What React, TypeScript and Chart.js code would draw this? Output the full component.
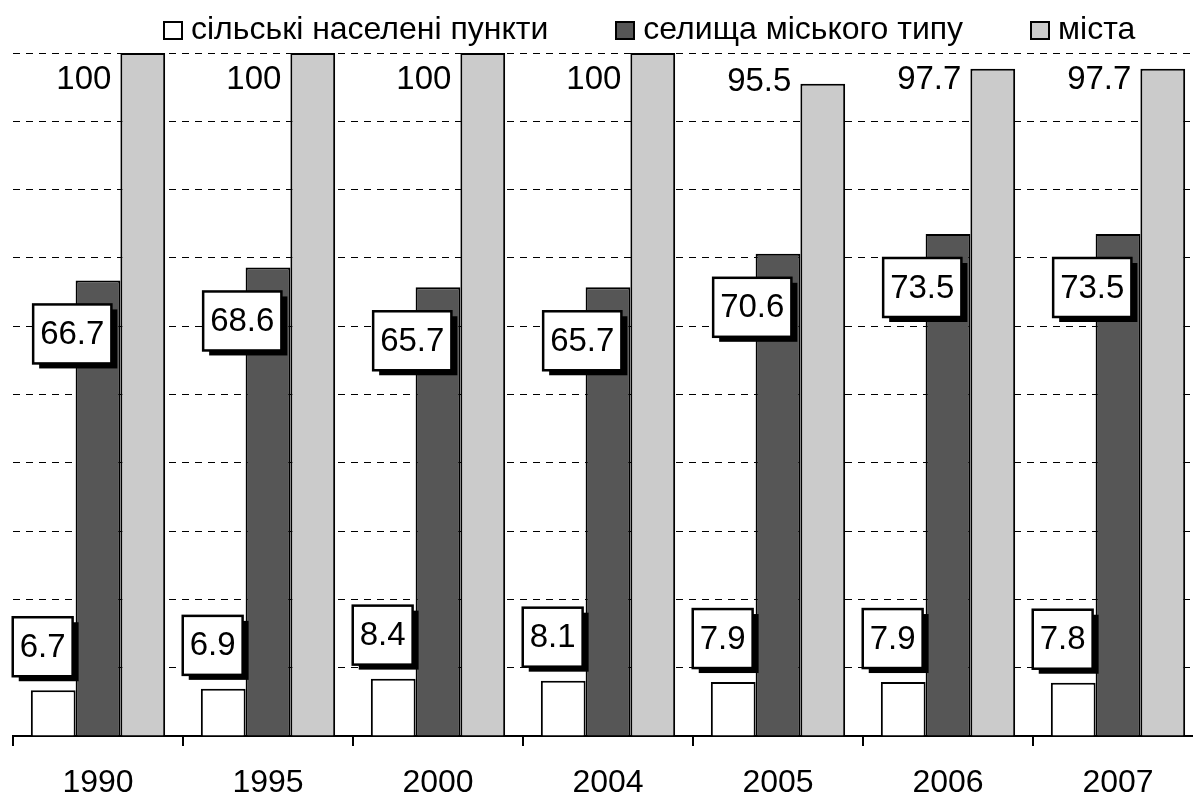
import React, { useEffect, useRef } from 'react';
import { Chart, registerables } from 'chart.js';

Chart.register(...registerables);

const years = ['1990', '1995', '2000', '2004', '2005', '2006', '2007'];
const seriesNames = ['сільські населені пункти', 'селища міського типу', 'міста'];
const ruralValues = [6.7, 6.9, 8.4, 8.1, 7.9, 7.9, 7.8];
const townValues = [66.7, 68.6, 65.7, 65.7, 70.6, 73.5, 73.5];
const cityValues = [100, 100, 100, 100, 95.5, 97.7, 97.7];
const seriesColors = ['#ffffff', '#565656', '#cbcbcb'];

const FONT = '"Liberation Sans", Arial, sans-serif';

const labelPlugin = {
  id: 'valueLabels',
  afterDatasetsDraw(chart: any) {
    const ctx = chart.ctx as CanvasRenderingContext2D;
    const top = chart.chartArea.top;
    ctx.save();
    ctx.font = `33px ${FONT}`;
    ctx.textBaseline = 'middle';
    chart.data.datasets.forEach((ds: any, di: number) => {
      const meta = chart.getDatasetMeta(di);
      meta.data.forEach((bar: any, i: number) => {
        const { x, y, width } = bar.getProps(['x', 'y', 'width'], true);
        const text = String(ds.data[i]);
        const left = x - width / 2;
        const right = x + width / 2;
        if (di === 2) {
          ctx.fillStyle = '#000';
          ctx.textAlign = 'right';
          ctx.fillText(text, left - 9, Math.max(y - 2, top + 27));
          return;
        }
        const tw = ctx.measureText(text).width;
        const bw = tw + 14;
        const bh = 59;
        let bx: number;
        let by: number;
        if (di === 0) {
          bx = right - 3 - bw;
          by = y - 14 - bh;
        } else {
          bx = right - 9 - bw;
          by = y + 24;
        }
        ctx.fillStyle = '#000';
        ctx.fillRect(bx + 6, by + 5, bw, bh);
        ctx.fillStyle = '#fff';
        ctx.fillRect(bx, by, bw, bh);
        ctx.lineWidth = 2.5;
        ctx.strokeStyle = '#000';
        ctx.strokeRect(bx, by, bw, bh);
        ctx.fillStyle = '#000';
        ctx.textAlign = 'center';
        ctx.fillText(text, bx + bw / 2, by + bh / 2 + 1);
      });
    });
    ctx.restore();
  },
};

export default function App() {
  const canvasRef = useRef<HTMLCanvasElement | null>(null);

  useEffect(() => {
    document.body.style.margin = '0';
    document.body.style.background = '#fff';
    const canvas = canvasRef.current;
    if (!canvas) return;
    const valueSets = [ruralValues, townValues, cityValues];
    const chart = new Chart(canvas, {
      type: 'bar',
      data: {
        labels: years,
        datasets: valueSets.map((vals, i) => ({
          label: seriesNames[i],
          data: vals,
          backgroundColor: seriesColors[i],
          borderColor: '#000',
          borderWidth: 2,
          categoryPercentage: 0.79,
          barPercentage: 1,
        })),
      },
      options: {
        responsive: false,
        maintainAspectRatio: false,
        animation: false,
        devicePixelRatio: 1,
        layout: { padding: { top: 53, left: 0, right: 0, bottom: 0 } },
        plugins: {
          legend: { display: false },
          tooltip: { enabled: false },
        },
        scales: {
          x: {
            grid: {
              offset: true,
              drawOnChartArea: false,
              drawTicks: true,
              tickLength: 10,
              color: '#000',
              lineWidth: 2,
            },
            border: { display: true, color: '#000', width: 2 },
            ticks: {
              color: '#000',
              font: { family: FONT, size: 32 },
              padding: 18,
              maxRotation: 0,
              autoSkip: false,
            },
            afterFit: (scale: any) => {
              scale.height = 59;
            },
          },
          y: {
            min: 0,
            max: 100,
            ticks: { display: false, stepSize: 10 },
            border: { display: false, dash: [7, 6] },
            grid: {
              drawTicks: false,
              color: (c: any) => (c.tick && c.tick.value === 0 ? 'rgba(0,0,0,0)' : '#000'),
              lineWidth: 1,
            },
            afterFit: (scale: any) => {
              scale.width = 13;
            },
          },
        },
      } as any,
      plugins: [labelPlugin],
    });
    return () => chart.destroy();
  }, []);

  const itemStyle: React.CSSProperties = { display: 'flex', alignItems: 'flex-start' };
  const boxStyle = (c: string): React.CSSProperties => ({
    width: 20,
    height: 19,
    border: '2px solid #000',
    boxSizing: 'border-box',
    background: c,
    marginTop: 9,
    marginRight: 8,
    flex: 'none',
  });

  return (
    <div
      style={{
        position: 'fixed',
        left: 0,
        top: 0,
        width: 1193,
        height: 795,
        overflow: 'hidden',
        background: '#fff',
      }}
    >
      <canvas ref={canvasRef} width={1203} height={795} style={{ display: 'block' }} />
      <div
        style={{
          position: 'absolute',
          left: 163,
          top: 12,
          display: 'flex',
          gap: 67,
          fontFamily: FONT,
          fontSize: 32,
          lineHeight: '32px',
          color: '#000',
          whiteSpace: 'nowrap',
        }}
      >
        {seriesNames.map((name, i) => (
          <div key={name} style={itemStyle}>
            <div style={boxStyle(seriesColors[i])} />
            <span>{name}</span>
          </div>
        ))}
      </div>
    </div>
  );
}
